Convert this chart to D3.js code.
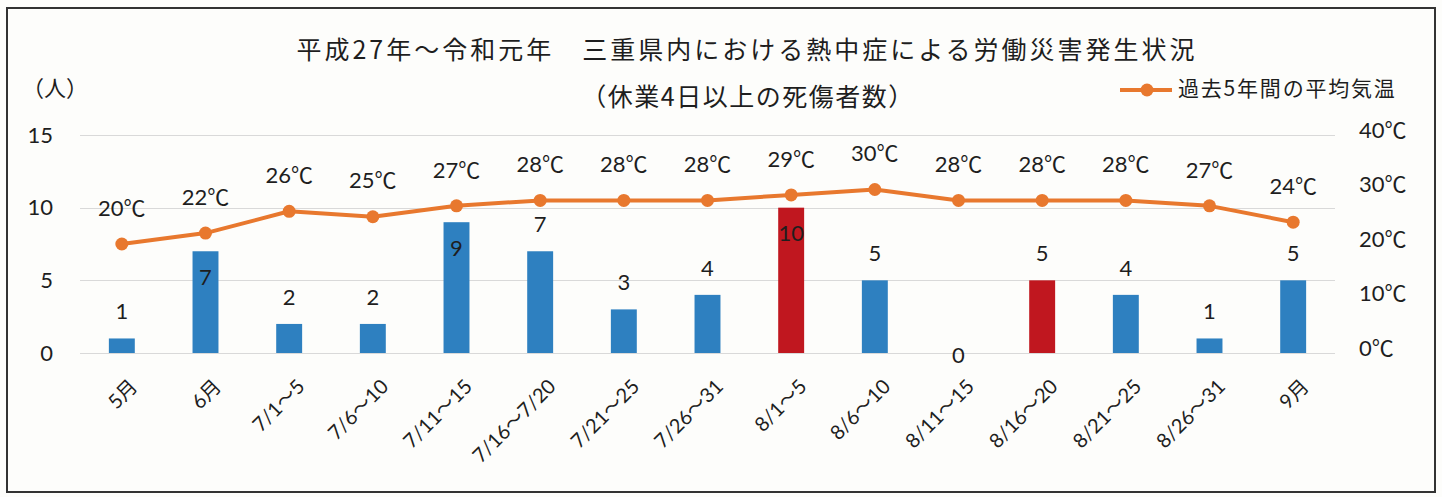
<!DOCTYPE html>
<html lang="ja">
<head>
<meta charset="utf-8">
<script src="https://cdn.jsdelivr.net/npm/d3@7"></script>
<style>
  html, body { margin: 0; padding: 0; background: #fdfdfb; }
  svg { display: block; }
  text { fill: #1e1e1e; }
</style>
</head>
<body>
<svg id="chart" width="1442" height="497"></svg>
<script>
// Periods (x categories)
const periods = ["5月", "6月", "7/1～5", "7/6～10", "7/11～15", "7/16～7/20", "7/21～25", "7/26～31",
                 "8/1～5", "8/6～10", "8/11～15", "8/16～20", "8/21～25", "8/26～31", "9月"];
// Heat-illness work injuries per period (persons)
const casualties = [1, 7, 2, 2, 9, 7, 3, 4, 10, 5, 0, 5, 4, 1, 5];
// Average temperature of the past 5 years (°C)
const avgTemp = [20, 22, 26, 25, 27, 28, 28, 28, 29, 30, 28, 28, 28, 27, 24];
// Periods highlighted in red
const highlighted = ["8/1～5", "8/16～20"];
// Bars whose value label sits inside the bar
const labelInside = ["6月", "7/11～15", "8/1～5"];
// Axis ticks
const countTicks = [0, 5, 10, 15];
const tempTicks = [0, 10, 20, 30, 40];

const svg = d3.select("#chart");
const FONT = "Lato, 'Noto Sans CJK JP', sans-serif";
const JP = "'Noto Sans CJK JP', sans-serif";

const plot = { left: 80, right: 1335, top: 135, bottom: 353 };

const x = d3.scaleBand().domain(periods).range([plot.left, plot.right]).paddingInner(0.69).paddingOuter(0.345);
const y = d3.scaleLinear().domain([0, 15]).range([plot.bottom, plot.top]);
const yT = d3.scaleLinear().domain([0, 40]).range([plot.bottom, plot.top]);
const cx = d => x(d) + x.bandwidth() / 2;

// outer frame
svg.append("rect")
  .attr("x", 7).attr("y", 8).attr("width", 1428).attr("height", 484)
  .attr("fill", "#fdfdfb").attr("stroke", "#333").attr("stroke-width", 2);

// gridlines
svg.append("g").selectAll("line").data(countTicks).join("line")
  .attr("x1", plot.left).attr("x2", plot.right)
  .attr("y1", d => Math.round(y(d)) + 0.5).attr("y2", d => Math.round(y(d)) + 0.5)
  .attr("stroke", "#d9d9d9").attr("stroke-width", 1.2);

// left axis (persons)
const leftAxis = svg.append("g").attr("transform", `translate(${plot.left - 27},0)`)
  .call(d3.axisLeft(y).tickValues(countTicks).tickSize(0).tickPadding(0));
leftAxis.select(".domain").remove();
leftAxis.selectAll("text").attr("font-family", FONT).attr("font-size", 22).attr("fill", "#1e1e1e").attr("dy", "0.32em");

// right axis (°C)
const rightAxis = svg.append("g").attr("transform", `translate(1359,0)`)
  .call(d3.axisRight(yT).tickValues(tempTicks).tickSize(0).tickPadding(0).tickFormat(d => d + "℃"));
rightAxis.select(".domain").remove();
rightAxis.selectAll("text").attr("font-family", FONT).attr("font-size", 22).attr("fill", "#1e1e1e")
  .attr("dy", "0.1em");

// bars
svg.append("g").selectAll("rect").data(periods).join("rect")
  .attr("x", d => x(d)).attr("width", x.bandwidth())
  .attr("y", (d, i) => y(casualties[i]))
  .attr("height", (d, i) => y(0) - y(casualties[i]))
  .attr("fill", d => highlighted.includes(d) ? "#c0171f" : "#2e80c0");

// bar value labels
svg.append("g").selectAll("text").data(periods).join("text")
  .attr("x", d => cx(d))
  .attr("y", (d, i) => {
    const v = casualties[i];
    if (v === 0) return y(0) + 2;
    return labelInside.includes(d) ? y(v) + 26 : y(v) - 27;
  })
  .attr("dy", "0.35em")
  .attr("text-anchor", "middle")
  .attr("font-family", FONT).attr("font-size", 22)
  .text((d, i) => casualties[i]);

// temperature line
const line = d3.line().x(d => cx(d.p)).y(d => yT(d.t));
const tempData = periods.map((p, i) => ({ p, t: avgTemp[i] }));
svg.append("path").datum(tempData)
  .attr("d", line).attr("fill", "none")
  .attr("stroke", "#e8782e").attr("stroke-width", 4).attr("stroke-linejoin", "round");
svg.append("g").selectAll("circle").data(tempData).join("circle")
  .attr("cx", d => cx(d.p)).attr("cy", d => yT(d.t)).attr("r", 6.5)
  .attr("fill", "#e8782e");

// temperature labels
svg.append("g").selectAll("text").data(tempData).join("text")
  .attr("x", d => cx(d.p)).attr("y", d => yT(d.t) - 36)
  .attr("dy", "0.35em")
  .attr("text-anchor", "middle")
  .attr("font-family", FONT).attr("font-size", 22)
  .text(d => d.t + "℃");

// x axis labels
svg.append("g").selectAll("text").data(periods).join("text")
  .attr("transform", d => `translate(${cx(d) + 7},${plot.bottom + 25}) rotate(-45)`)
  .attr("text-anchor", "end")
  .attr("dy", "0.7em")
  .attr("font-family", FONT).attr("font-size", 20)
  .text(d => d);

// titles
svg.append("text").attr("x", 747).attr("y", 50).attr("dy", "0.35em")
  .attr("text-anchor", "middle").attr("font-family", JP).attr("font-size", 25)
  .attr("letter-spacing", 3)
  .text("平成27年～令和元年　三重県内における熱中症による労働災害発生状況");
svg.append("text").attr("x", 748).attr("y", 97).attr("dy", "0.35em")
  .attr("text-anchor", "middle").attr("font-family", JP).attr("font-size", 25)
  .attr("letter-spacing", 1.5)
  .text("（休業4日以上の死傷者数）");

// unit label
svg.append("text").attr("x", 22).attr("y", 88).attr("dy", "0.35em")
  .attr("font-family", JP).attr("font-size", 22)
  .text("（人）");

// legend
const lg = svg.append("g").attr("transform", "translate(1120,90)");
lg.append("line").attr("x1", 0).attr("x2", 52).attr("y1", 0).attr("y2", 0)
  .attr("stroke", "#e8782e").attr("stroke-width", 4);
lg.append("circle").attr("cx", 27).attr("cy", 0).attr("r", 6.5).attr("fill", "#e8782e");
lg.append("text").attr("x", 58).attr("y", -1).attr("dy", "0.35em")
  .attr("font-family", JP).attr("font-size", 21).attr("letter-spacing", 1.8)
  .text("過去5年間の平均気温");
</script>
</body>
</html>
